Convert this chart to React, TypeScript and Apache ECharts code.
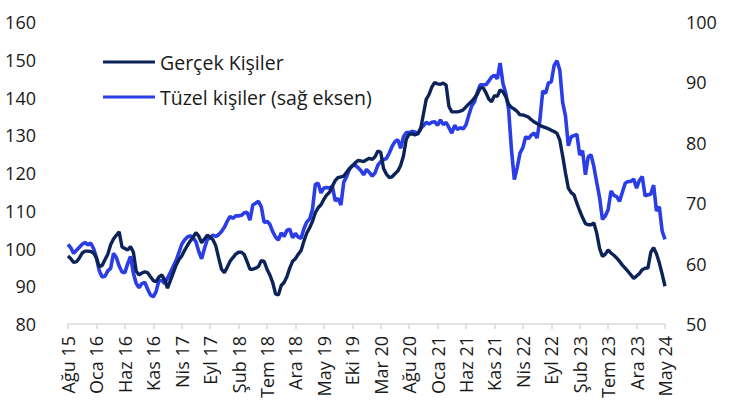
import React, { useEffect, useRef } from "react";
import * as echarts from "echarts";

const MONTHS = ["Oca", "Şub", "Mar", "Nis", "May", "Haz", "Tem", "Ağu", "Eyl", "Eki", "Kas", "Ara"];
const START_YEAR = 2015;
const START_MONTH = 7; // Ağu
const POINT_COUNT = 211; // half-month steps, Ağu 15 .. May 24

// Half-month categories; the second half of each month gets a hidden suffix
const categories: string[] = [];
for (let i = 0; i < POINT_COUNT; i++) {
  const m = Math.floor(i / 2);
  const mi = (START_MONTH + m) % 12;
  const yr = START_YEAR + Math.floor((START_MONTH + m) / 12);
  const base = `${MONTHS[mi]} ${String(yr).slice(2)}`;
  categories.push(i % 2 === 0 ? base : `${base} (2)`);
}

// Gerçek Kişiler (left axis)
const gercek = [
  98, 97.3, 96.3, 96.5, 97.5, 98.8, 99.3, 99.3, 99.2, 98.8,
  97.5, 95.2, 95.5, 97, 98.5, 101, 102.5, 103.5, 104.4, 100.4,
  100, 99.6, 100.5, 99, 94, 93, 93.5, 93.8, 93.6, 92.5,
  91.5, 91.2, 92.5, 93, 91.7, 89.5, 91.5, 93.5, 95.5, 97,
  98, 99.5, 100.8, 102, 103, 104.2, 103.3, 101.5, 102.5, 103.5,
  103, 102.3, 100.7, 97.5, 94.5, 93.6, 95, 96.6, 97.6, 98.5,
  99, 99, 98.4, 96.5, 94.5, 94.5, 94.8, 95.2, 96.8, 96.6,
  94.5, 93, 91, 88, 87.7, 90.2, 91, 92.5, 94.8, 96.6,
  97.3, 98.5, 99.5, 102, 104.1, 105.5, 107.2, 109.5, 110.8, 111.6,
  113, 114.2, 114.9, 116.5, 118, 118.8, 119, 119.2, 120.2, 121.2,
  121.9, 122.7, 123.3, 123.2, 123, 123.5, 123.9, 123.6, 124.3, 125.8,
  125.5, 121.2, 119.7, 118.8, 119, 119.8, 120.5, 122, 124.5, 129,
  130.3, 130.4, 130.1, 130.4, 131.5, 135.5, 139.5, 140.8, 142.8, 144,
  143.6, 143.5, 143.8, 143.3, 137.6, 136.2, 136.2, 136.2, 136.4, 136.7,
  137.5, 138.3, 139, 139.9, 140.9, 142.5, 142.6, 141.3, 139.6, 138.9,
  140.5, 140.3, 142, 141.5, 140.2, 138.2, 137.4, 136.9, 136.3, 135.4,
  135.4, 135.1, 134.8, 134.1, 133.5, 133.1, 132.6, 132.3, 132, 131.7,
  131.3, 131, 130.5, 128.7, 124.5, 120, 116, 114.8, 114.2, 112,
  110, 108.2, 106.6, 106.3, 106.3, 106.8, 104, 100, 97.9, 98.5,
  99.6, 98.8, 98.2, 97.5, 96.6, 95.6, 94.8, 93.9, 93, 92.1,
  92.7, 93.4, 94.4, 94.8, 94.8, 99, 100.2, 98.6, 96.2, 93.2,
  90,
];

// Tüzel kişiler (right axis)
const tuzel = [
  63.2, 62.6, 61.7, 62.2, 62.7, 63.2, 63.5, 63.1, 63.4, 62.5,
  61, 58.8, 57.8, 57.9, 58.8, 59.2, 61.7, 61, 59.6, 58.6,
  58.5, 60, 61.2, 58.4, 56.7, 56, 56.7, 56.9, 55.8, 54.8,
  54.5, 55.4, 57.2, 57.2, 56.7, 57.6, 58.5, 59.5, 60.5, 61.8,
  63.2, 63.9, 64.4, 64.6, 64.3, 63.6, 62, 60.8, 62.5, 64,
  64.3, 64.7, 64.5, 64.8, 65.3, 66, 67, 67.8, 67.5, 67.9,
  67.9, 68, 68.4, 68.5, 67.2, 69.7, 70, 70.3, 69.4, 66.8,
  67, 66.5, 65.3, 64.4, 63.9, 65.1, 64.5, 65.5, 65.7, 64.3,
  65, 64.4, 64.2, 65.8, 66.9, 67.4, 69, 73.1, 73.3, 71.7,
  72.5, 72.6, 72.5, 72.8, 70.4, 70.8, 69.7, 73.5, 74.4, 75.6,
  76.2, 76.3, 75.9, 75.4, 74.7, 75.6, 75.1, 74.5, 75, 76.3,
  76.9, 77.2, 77.4, 78.3, 79.4, 80.2, 80.5, 79.1, 81, 81.7,
  81.7, 81.9, 81.8, 81.4, 82.4, 82.8, 83.4, 83.1, 83.4, 83.5,
  82.9, 83.8, 83, 83.4, 82.5, 81.6, 82.9, 82.2, 82.5, 82.3,
  83, 84.6, 86.1, 86.8, 88.4, 89.6, 89.6, 89.6, 90.2, 90.9,
  91.2, 90.6, 93.2, 89.8, 88.2, 85.5, 78.8, 73.9, 75.9, 78.3,
  79.2, 81, 80.7, 81.3, 81.6, 80.8, 83.8, 88.6, 88.2, 89.9,
  90.1, 92.8, 93.6, 92, 86.7, 84.4, 79.5, 81, 81.2, 81.4,
  78, 78.7, 74.7, 77.7, 78, 76, 73.4, 70.9, 67.3, 67.9,
  68.9, 72, 71.3, 71.1, 70.3, 71.8, 73.3, 73.6, 73.6, 74,
  72.5, 73.8, 74.4, 71.2, 71.4, 71.5, 73, 68.7, 69.4, 65.4,
  64,
];

const SERIES_NAMES = ["Gerçek Kişiler", "Tüzel kişiler (sağ eksen)"];
const COLORS = ["#0b2358", "#2a3de6"];

const FONT = "'Open Sans', 'Noto Sans', sans-serif";
const TEXT_COLOR = "#1a1a1a";

export default function App() {
  const ref = useRef<HTMLDivElement>(null);
  useEffect(() => {
    if (!ref.current) return;
    const chart = echarts.init(ref.current, undefined, { renderer: "svg" });
    chart.setOption({
      animation: false,
      backgroundColor: "#ffffff",
      textStyle: { fontFamily: FONT },
      grid: { left: 68, right: 76, top: 22, bottom: 90, containLabel: false },
      legend: {
        orient: "vertical",
        left: 98,
        top: 46,
        itemGap: 13,
        itemWidth: 52,
        itemHeight: 3,
        icon: "rect",
        textStyle: { fontSize: 19.5, color: TEXT_COLOR, fontFamily: FONT, lineHeight: 22 },
        data: SERIES_NAMES,
      },
      xAxis: {
        type: "category",
        data: categories,
        boundaryGap: false,
        axisLine: { lineStyle: { color: "#d9d9d9", width: 1.5 } },
        axisTick: { show: true, interval: 9, length: 5, lineStyle: { color: "#d9d9d9", width: 1.5 } },
        axisLabel: {
          interval: 9,
          rotate: 90,
          margin: 12,
          fontSize: 18,
          color: TEXT_COLOR,
          fontFamily: FONT,
        },
        splitLine: { show: false },
      },
      yAxis: [
        {
          type: "value",
          min: 80,
          max: 160,
          interval: 10,
          axisLine: { show: false },
          axisTick: { show: false },
          splitLine: { show: false },
          axisLabel: { fontSize: 18, color: TEXT_COLOR, margin: 32, fontFamily: FONT },
        },
        {
          type: "value",
          min: 50,
          max: 100,
          interval: 10,
          position: "right",
          axisLine: { show: false },
          axisTick: { show: false },
          splitLine: { show: false },
          axisLabel: { fontSize: 18, color: TEXT_COLOR, margin: 21, fontFamily: FONT },
        },
      ],
      series: [
        {
          name: SERIES_NAMES[0],
          type: "line",
          yAxisIndex: 0,
          data: gercek,
          symbol: "none",
          z: 3,
          itemStyle: { color: COLORS[0] },
          lineStyle: { color: COLORS[0], width: 3.4 },
        },
        {
          name: SERIES_NAMES[1],
          type: "line",
          yAxisIndex: 1,
          data: tuzel,
          symbol: "none",
          z: 2,
          itemStyle: { color: COLORS[1] },
          lineStyle: { color: COLORS[1], width: 3.6 },
        },
      ],
    });
    return () => chart.dispose();
  }, []);
  return <div ref={ref} style={{ width: 741, height: 414, position: "absolute", left: 0, top: 0 }} />;
}
